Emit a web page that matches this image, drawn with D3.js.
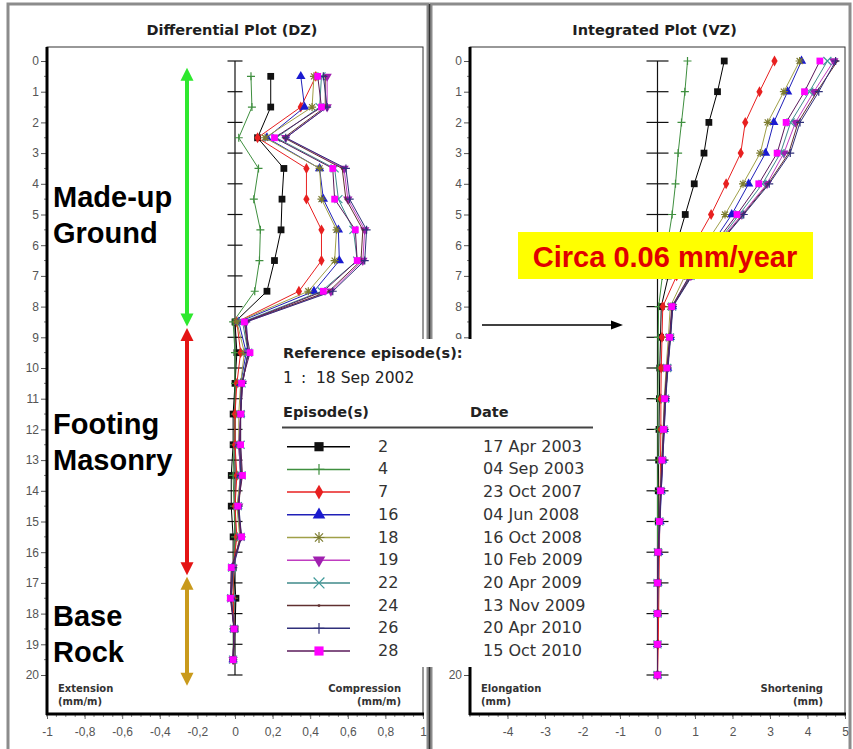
<!DOCTYPE html>
<html>
<head>
<meta charset="utf-8">
<script src="https://cdn.jsdelivr.net/npm/d3@7"></script>
<style>
body { margin: 0; background: #fff; }
</style>
</head>
<body>
<svg id="canvas" width="853" height="749" font-family="DejaVu Sans, sans-serif"></svg>
<script>
// episodes and dates (legend)
const episodes = [2, 4, 7, 16, 18, 19, 22, 24, 26, 28]
const dates = ['17 Apr 2003', '04 Sep 2003', '23 Oct 2007', '04 Jun 2008', '16 Oct 2008',
    '10 Feb 2009', '20 Apr 2009', '13 Nov 2009', '20 Apr 2010', '15 Oct 2010']

// depths (m)
const diffDepths = [0.5, 1.5, 2.5, 3.5, 4.5, 5.5, 6.5, 7.5, 8.5, 9.5, 10.5, 11.5, 12.5, 13.5, 14.5, 15.5, 16.5, 17.5, 18.5, 19.5]
const intDepths = [0, 1, 2, 3, 4, 5, 6, 7, 8, 9, 10, 11, 12, 13, 14, 15, 16, 17, 18, 19, 20]
const depthTicks = [0, 1, 2, 3, 4, 5, 6, 7, 8, 9, 10, 11, 12, 13, 14, 15, 16, 17, 18, 19, 20]

// differential plot values (mm/m)
const dz2 = [0.19, 0.19, 0.12, 0.26, 0.25, 0.245, 0.21, 0.17, 0.00, 0.01, 0.0, -0.01, -0.01, -0.02, -0.02, -0.01, -0.01, 0.005, 0.0, -0.01]
const dz4 = [0.085, 0.09, 0.02, 0.125, 0.10, 0.135, 0.13, 0.105, -0.01, 0.0, 0.0, 0.0, -0.005, -0.01, -0.005, 0.0, -0.01, -0.005, -0.01, -0.01]
const dz7 = [0.43, 0.35, 0.12, 0.38, 0.38, 0.46, 0.46, 0.34, 0.01, 0.03, 0.01, 0.0, 0.0, 0.01, 0.0, 0.01, -0.01, -0.01, -0.005, -0.01]
const dz16 = [0.35, 0.37, 0.17, 0.45, 0.47, 0.55, 0.555, 0.42, 0.02, 0.06, 0.03, 0.03, 0.02, 0.03, 0.015, 0.03, -0.015, -0.02, -0.005, -0.01]
const dz18 = [0.42, 0.41, 0.16, 0.45, 0.46, 0.54, 0.53, 0.39, 0.01, 0.05, 0.03, 0.02, 0.02, 0.03, 0.01, 0.025, -0.01, -0.02, -0.005, -0.01]
const dz19 = [0.49, 0.49, 0.27, 0.58, 0.60, 0.69, 0.68, 0.51, 0.06, 0.07, 0.04, 0.03, 0.02, 0.03, 0.02, 0.03, -0.01, -0.02, -0.005, -0.01]
const dz22 = [0.46, 0.45, 0.22, 0.53, 0.55, 0.63, 0.65, 0.46, 0.04, 0.07, 0.035, 0.03, 0.03, 0.035, 0.015, 0.03, -0.015, -0.02, -0.005, -0.01]
const dz24 = [0.48, 0.48, 0.26, 0.57, 0.59, 0.68, 0.67, 0.50, 0.05, 0.07, 0.04, 0.03, 0.025, 0.035, 0.02, 0.03, -0.015, -0.02, -0.005, -0.01]
const dz26 = [0.47, 0.49, 0.27, 0.59, 0.61, 0.70, 0.69, 0.52, 0.06, 0.07, 0.04, 0.03, 0.025, 0.03, 0.02, 0.035, -0.01, -0.02, -0.005, -0.01]
const dz28 = [0.44, 0.46, 0.21, 0.52, 0.53, 0.64, 0.65, 0.47, 0.05, 0.08, 0.035, 0.03, 0.03, 0.04, 0.015, 0.035, -0.02, -0.025, -0.005, -0.01]

// integrated plot values (mm)
const vz2 = [1.78, 1.60, 1.37, 1.24, 0.98, 0.74, 0.50, 0.29, 0.10, 0.08, 0.06, 0.05, 0.04, 0.03, 0.02, 0.02, 0.01, 0.01, 0.01, 0.0, 0.0]
const vz4 = [0.80, 0.73, 0.64, 0.55, 0.48, 0.39, 0.26, 0.13, 0.03, 0.02, 0.02, 0.01, 0.01, 0.01, 0.0, 0.0, 0.0, 0.0, 0.0, 0.0, 0.0]
const vz7 = [3.12, 2.72, 2.34, 2.22, 1.83, 1.43, 0.97, 0.51, 0.14, 0.12, 0.10, 0.09, 0.09, 0.08, 0.07, 0.06, 0.05, 0.04, 0.03, 0.02, 0.0]
const vz16 = [3.84, 3.47, 3.10, 2.88, 2.43, 1.98, 1.43, 0.87, 0.40, 0.34, 0.27, 0.21, 0.18, 0.14, 0.10, 0.07, 0.03, 0.01, 0.0, 0.0, 0.0]
const vz18 = [3.79, 3.37, 2.94, 2.74, 2.28, 1.80, 1.26, 0.73, 0.34, 0.29, 0.23, 0.18, 0.15, 0.11, 0.08, 0.05, 0.02, 0.01, 0.0, 0.0, 0.0]
const vz19 = [4.70, 4.17, 3.68, 3.37, 2.92, 2.25, 1.57, 0.89, 0.40, 0.33, 0.26, 0.21, 0.17, 0.13, 0.09, 0.06, 0.02, 0.0, 0.0, 0.0, 0.0]
const vz22 = [4.53, 4.05, 3.55, 3.28, 2.80, 2.18, 1.55, 0.88, 0.39, 0.33, 0.26, 0.20, 0.16, 0.12, 0.08, 0.05, 0.01, 0.0, 0.0, 0.0, 0.0]
const vz24 = [4.80, 4.25, 3.75, 3.50, 2.95, 2.28, 1.60, 0.90, 0.40, 0.34, 0.27, 0.21, 0.17, 0.13, 0.09, 0.06, 0.02, 0.0, 0.0, 0.0, 0.0]
const vz26 = [4.75, 4.30, 3.80, 3.54, 2.98, 2.30, 1.61, 0.92, 0.41, 0.35, 0.28, 0.22, 0.18, 0.14, 0.10, 0.06, 0.02, 0.01, 0.0, 0.0, 0.0]
const vz28 = [4.33, 3.92, 3.43, 3.19, 2.70, 2.12, 1.50, 0.85, 0.38, 0.32, 0.25, 0.19, 0.16, 0.12, 0.08, 0.05, 0.01, 0.0, 0.0, 0.0, 0.0]

// x axis ticks
const diffTicks = [-1, -0.8, -0.6, -0.4, -0.2, 0, 0.2, 0.4, 0.6, 0.8, 1]
const diffTickLabels = ['-1', '-0,8', '-0,6', '-0,4', '-0,2', '0', '0,2', '0,4', '0,6', '0,8', '1']
const intTicks = [-4, -3, -2, -1, 0, 1, 2, 3, 4, 5]
const intTickLabels = ['-4', '-3', '-2', '-1', '0', '1', '2', '3', '4', '5']

// ground zones (depth range of the arrows)
const zoneNames = [['Made-up', 'Ground'], ['Footing', 'Masonry'], ['Base', 'Rock']]
const zoneTop = [0.22, 8.7, 16.8]
const zoneBottom = [8.65, 16.75, 20.35]
const zoneColors = ['#2ee82e', '#e41414', '#c99a1c']

const series = [
    { ep: 2, dz: dz2, vz: vz2, color: '#000000', fill: '#111111', shape: 'square' },
    { ep: 4, dz: dz4, vz: vz4, color: '#3f8f3f', fill: '#3f8f3f', shape: 'plus' },
    { ep: 7, dz: dz7, vz: vz7, color: '#e82020', fill: '#e82020', shape: 'diamond' },
    { ep: 16, dz: dz16, vz: vz16, color: '#2020b8', fill: '#1a1ad0', shape: 'triangle' },
    { ep: 18, dz: dz18, vz: vz18, color: '#a0a048', fill: '#7c7c30', shape: 'asterisk' },
    { ep: 19, dz: dz19, vz: vz19, color: '#c03cc0', fill: '#a020b0', shape: 'triangleDown' },
    { ep: 22, dz: dz22, vz: vz22, color: '#3f8a8a', fill: '#3f9a9a', shape: 'cross' },
    { ep: 24, dz: dz24, vz: vz24, color: '#603030', fill: '#603030', shape: 'dot' },
    { ep: 26, dz: dz26, vz: vz26, color: '#30307a', fill: '#30307a', shape: 'plus' },
    { ep: 28, dz: dz28, vz: vz28, color: '#5a1a5a', fill: '#ff00ff', shape: 'square' }
]

const arial = 'Liberation Sans, Arial, sans-serif'

let canvas = d3.select('#canvas')

let xL = d3.scaleLinear().domain([-1, 1]).range([47, 423])
let xR = d3.scaleLinear().domain([-5, 5]).range([470, 845])
let y = d3.scaleLinear().domain([0, 20]).range([61, 675])
const plotTop = 47, plotBottom = 714

// marker path for a shape, scale k
let markerPath = (shape, k) => {
    let r = 4 * k
    if (shape === 'square') return d3.symbol(d3.symbolSquare, 46 * k * k)()
    if (shape === 'diamond') return d3.symbol(d3.symbolDiamond, 34 * k * k)()
    if (shape === 'triangle') return d3.symbol(d3.symbolTriangle, 38 * k * k)()
    if (shape === 'triangleDown') return d3.symbol(d3.symbolTriangle, 38 * k * k)()
    if (shape === 'dot') return d3.symbol(d3.symbolCircle, 5 * k)()
    if (shape === 'plus') return `M${-r},0H${r}M0,${-r}V${r}`
    if (shape === 'cross') return `M${-r},${-r}L${r},${r}M${-r},${r}L${r},${-r}`
    if (shape === 'asterisk') return `M${-r},0H${r}M0,${-r}V${r}M${-r * 0.75},${-r * 0.75}L${r * 0.75},${r * 0.75}M${-r * 0.75},${r * 0.75}L${r * 0.75},${-r * 0.75}`
}
let isStroked = (shape) => ['plus', 'cross', 'asterisk'].includes(shape)

let drawMarkers = (g, pts, s, k) => {
    g.selectAll(null)
        .data(pts)
        .enter()
        .append('path')
        .attr('d', markerPath(s.shape, k))
        .attr('transform', (p) => 'translate(' + p[0] + ',' + p[1] + ')' + (s.shape === 'triangleDown' ? ' rotate(180)' : ''))
        .attr('fill', isStroked(s.shape) ? 'none' : s.fill)
        .attr('stroke', isStroked(s.shape) ? s.fill : 'none')
        .attr('stroke-width', 1.2)
}

// panel frames
canvas.append('rect').attr('x', 8).attr('y', 4).attr('width', 420).attr('height', 770)
    .attr('fill', 'none').attr('stroke', '#8c8c8c').attr('stroke-width', 3)
canvas.append('rect').attr('x', 431).attr('y', 4).attr('width', 419).attr('height', 770)
    .attr('fill', 'none').attr('stroke', '#8c8c8c').attr('stroke-width', 3)
canvas.append('line').attr('x1', 429.5).attr('x2', 429.5).attr('y1', 4).attr('y2', 749)
    .attr('stroke', '#333').attr('stroke-width', 1.5)

let drawPanel = (x, ticks, tickLabels, minorStep, title, leftLabel, rightLabel, unit, data, depths, capHalf) => {
    let g = canvas.append('g')
    let [x0, x1] = x.range()
    let cx = (x0 + x1) / 2

    g.append('text').attr('x', cx - 3).attr('y', 35).attr('text-anchor', 'middle')
        .attr('font-weight', 'bold').attr('font-size', 14.5).attr('fill', '#1e1e1e').text(title)

    // plot frame
    g.append('rect').attr('x', x0).attr('y', plotTop).attr('width', x1 - x0).attr('height', plotBottom - plotTop)
        .attr('fill', '#fff').attr('stroke', '#333').attr('stroke-width', 1)

    // zero reference bar
    g.append('line').attr('x1', x(0)).attr('x2', x(0)).attr('y1', y(0)).attr('y2', y(20))
        .attr('stroke', '#111').attr('stroke-width', 1.2)
    g.selectAll(null).data(depthTicks).enter().append('line')
        .attr('x1', x(0) - capHalf).attr('x2', x(0) + capHalf)
        .attr('y1', (d) => y(d)).attr('y2', (d) => y(d))
        .attr('stroke', '#111').attr('stroke-width', 1.2)

    // y axis
    let yAxis = d3.axisLeft(y).tickValues(depthTicks).tickSize(6).tickPadding(2).tickFormat((d) => d)
    let ya = g.append('g').attr('transform', 'translate(' + x0 + ',0)').call(yAxis)
    ya.select('.domain').remove()
    ya.attr('font-family', arial).attr('font-size', 12)
    ya.selectAll('text').attr('fill', '#555')
    ya.selectAll('line').attr('stroke', '#555')
    g.selectAll(null).data(diffDepths).enter().append('line')
        .attr('x1', x0 - 3).attr('x2', x0).attr('y1', (d) => y(d)).attr('y2', (d) => y(d)).attr('stroke', '#777')
    g.append('line').attr('x1', x0).attr('x2', x0).attr('y1', plotTop).attr('y2', plotBottom + 1)
        .attr('stroke', '#000').attr('stroke-width', 3)

    // x axis
    let xAxis = d3.axisBottom(x).tickValues(ticks).tickSize(5).tickPadding(8).tickFormat((d, i) => tickLabels[i])
    let xa = g.append('g').attr('transform', 'translate(0,' + plotBottom + ')').call(xAxis)
    xa.select('.domain').remove()
    xa.attr('font-family', arial).attr('font-size', 12)
    xa.selectAll('text').attr('fill', '#555')
    xa.selectAll('line').attr('stroke', '#666')
    let minor = d3.range(x.domain()[0], x.domain()[1] + 1e-9, minorStep)
    g.selectAll(null).data(minor).enter().append('line')
        .attr('x1', (d) => x(d)).attr('x2', (d) => x(d)).attr('y1', plotBottom).attr('y2', plotBottom + 3)
        .attr('stroke', '#888')
    g.append('line').attr('x1', x0 - 1).attr('x2', x1 + 1).attr('y1', plotBottom).attr('y2', plotBottom)
        .attr('stroke', '#000').attr('stroke-width', 3)

    // axis end labels
    let lab = g.append('g').attr('font-size', 10).attr('font-weight', 'bold').attr('fill', '#333')
    lab.append('text').attr('x', x0 + 11).attr('y', 692).text(leftLabel)
    lab.append('text').attr('x', x0 + 11).attr('y', 705).text(unit)
    lab.append('text').attr('x', x1 - 22).attr('y', 692).attr('text-anchor', 'end').text(rightLabel)
    lab.append('text').attr('x', x1 - 22).attr('y', 705).attr('text-anchor', 'end').text(unit)

    // series
    series.forEach((s) => {
        let pts = depths.map((d, i) => [x(s[data][i]), y(d)])
        g.append('path').datum(pts)
            .attr('d', d3.line())
            .attr('fill', 'none').attr('stroke', s.color).attr('stroke-width', 1)
        drawMarkers(g, pts, s, 1)
    })
    return g
}

drawPanel(xL, diffTicks, diffTickLabels, 0.05, 'Differential Plot (DZ)', 'Extension', 'Compression', '(mm/m)', 'dz', diffDepths, 7.5)
drawPanel(xR, intTicks, intTickLabels, 0.25, 'Integrated Plot (VZ)', 'Elongation', 'Shortening', '(mm)', 'vz', intDepths, 11)

// ground zone arrows and labels
let zones = canvas.append('g')
const zoneX = 187
zoneNames.forEach((names, i) => {
    let t = y(zoneTop[i]), b = y(zoneBottom[i]), c = zoneColors[i]
    zones.append('line').attr('x1', zoneX).attr('x2', zoneX).attr('y1', t + 10).attr('y2', b - 10)
        .attr('stroke', c).attr('stroke-width', 4)
    zones.append('path').attr('d', `M${zoneX},${t}L${zoneX - 6.5},${t + 13}L${zoneX + 6.5},${t + 13}Z`).attr('fill', c)
    zones.append('path').attr('d', `M${zoneX},${b}L${zoneX - 6.5},${b - 13}L${zoneX + 6.5},${b - 13}Z`).attr('fill', c)
})
const zoneLabelY = [[207, 243], [434, 470], [626, 662]]
zoneNames.forEach((names, i) => {
    names.forEach((n, j) => {
        zones.append('text').attr('x', 53).attr('y', zoneLabelY[i][j])
            .attr('font-family', arial)
            .attr('font-weight', 'bold').attr('font-size', 29).attr('fill', '#000').text(n)
    })
})

// rate annotation
canvas.append('rect').attr('x', 518).attr('y', 232).attr('width', 295).attr('height', 47).attr('fill', '#ffff00')
canvas.append('text').attr('x', 665).attr('y', 267).attr('text-anchor', 'middle')
    .attr('font-family', arial).attr('font-weight', 'bold')
    .attr('font-size', 29).attr('fill', '#e00000').text('Circa 0.06 mm/year')
canvas.append('line').attr('x1', 482).attr('x2', 612).attr('y1', 325).attr('y2', 325)
    .attr('stroke', '#000').attr('stroke-width', 1.5)
canvas.append('path').attr('d', 'M623,325L611,320.5L611,329.5Z').attr('fill', '#000')

// legend
let legend = canvas.append('g')
legend.append('rect').attr('x', 275).attr('y', 339).attr('width', 326).attr('height', 328).attr('fill', '#fff')
legend.append('text').attr('x', 283).attr('y', 358).attr('font-weight', 'bold').attr('font-size', 14.5).attr('fill', '#222')
    .text('Reference episode(s):')
legend.append('text').attr('x', 283).attr('y', 383).attr('font-size', 15.5).attr('fill', '#222').text('1')
legend.append('text').attr('x', 301).attr('y', 383).attr('font-size', 15.5).attr('fill', '#222').text(':')
legend.append('text').attr('x', 316).attr('y', 383).attr('font-size', 15.5).attr('fill', '#222').text('18 Sep 2002')
legend.append('text').attr('x', 283).attr('y', 417).attr('font-weight', 'bold').attr('font-size', 14.5).attr('fill', '#222')
    .text('Episode(s)')
legend.append('text').attr('x', 470).attr('y', 417).attr('font-weight', 'bold').attr('font-size', 14.5).attr('fill', '#222')
    .text('Date')
legend.append('line').attr('x1', 282).attr('x2', 593).attr('y1', 427.5).attr('y2', 427.5)
    .attr('stroke', '#444').attr('stroke-width', 2)

let rowY = d3.scaleLinear().domain([0, 9]).range([451.7, 656])
series.forEach((s, i) => {
    let yy = rowY(i)
    legend.append('line').attr('x1', 287).attr('x2', 350).attr('y1', yy - 5).attr('y2', yy - 5)
        .attr('stroke', s.color).attr('stroke-width', 1.5)
    drawMarkers(legend, [[319, yy - 5]], s, 1.35)
    legend.append('text').attr('x', 378).attr('y', yy).attr('font-size', 16).attr('fill', '#333').text(episodes[i])
    legend.append('text').attr('x', 483).attr('y', yy).attr('font-size', 16).attr('fill', '#333').text(dates[i])
})
</script>
</body>
</html>
